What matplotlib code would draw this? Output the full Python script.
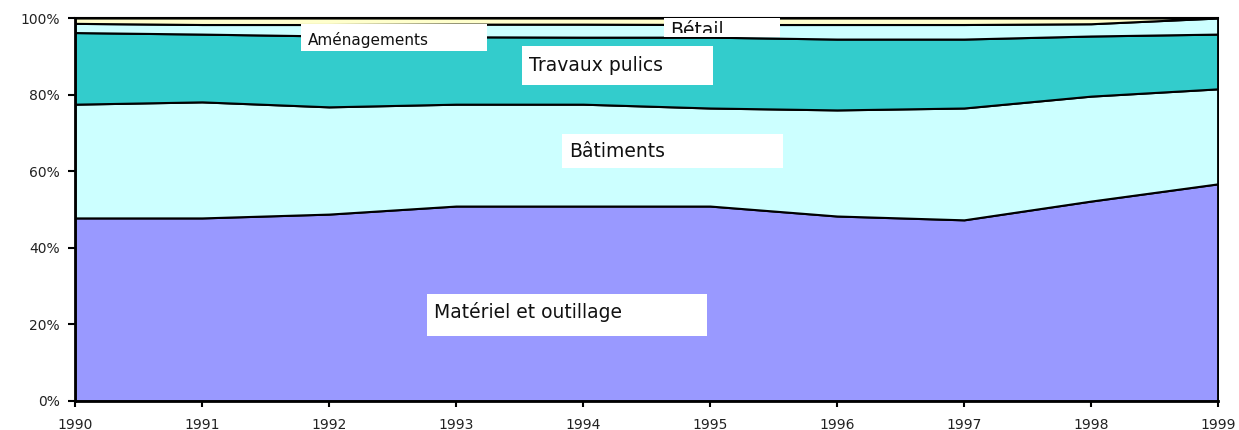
import matplotlib
matplotlib.use("Agg")
import matplotlib.pyplot as plt
from matplotlib.patches import Rectangle

plt.rcParams["font.family"] = ["DejaVu Sans"]

# données (% du total)
annees = [1990, 1991, 1992, 1993, 1994, 1995, 1996, 1997, 1998, 1999]
materiel = [47.8, 47.8, 48.8, 50.9, 50.9, 50.9, 48.3, 47.3, 52.2, 56.7]
batiments = [29.7, 30.3, 28.0, 26.6, 26.6, 25.6, 27.7, 29.2, 27.4, 24.8]
travaux = [18.7, 17.7, 18.5, 17.6, 17.5, 18.5, 18.5, 18.0, 15.7, 14.3]
amenagements = [2.4, 2.5, 3.0, 3.3, 3.4, 3.3, 3.8, 3.8, 3.2, 4.2]
betail = [1.4, 1.7, 1.7, 1.6, 1.6, 1.7, 1.7, 1.7, 1.5, 0.0]

couleurs = ["#9999FF", "#CCFFFF", "#33CCCC", "#CCFFFF", "#FFFFCC"]
yticks = [0, 20, 40, 60, 80, 100]
ytick_labels = ["0%", "20%", "40%", "60%", "80%", "100%"]


def px2x(px):
    return 1990 + (px - 75) / (1218 - 75) * 9


def px2y(py):
    return (401 - py) / (401 - 18) * 100


fig = plt.figure(figsize=(12.39, 4.30), dpi=100)
ax = fig.add_axes([75 / 1239, (430 - 401) / 430, (1218 - 75) / 1239, (401 - 18) / 430])

ax.stackplot(annees, materiel, batiments, travaux, amenagements, betail,
             colors=couleurs, edgecolor="black", linewidth=1.5)

ax.set_xlim(1990, 1999)
ax.set_ylim(0, 100)
ax.set_xticks(annees)
ax.set_xticklabels([str(a) for a in annees], fontsize=10, color="#222222")
ax.set_yticks(yticks)
ax.set_yticklabels(ytick_labels, fontsize=10, color="#222222")
ax.tick_params(axis="y", direction="out", length=5, width=1.5, pad=6)
ax.tick_params(axis="x", direction="out", length=4, width=1.5, pad=8.5)
for s in ["left", "bottom"]:
    ax.spines[s].set_linewidth(2)
ax.spines["right"].set_linewidth(1.2)
ax.spines["top"].set_linewidth(1.5)

# étiquettes dans des cadres blancs (texte, x gauche, x droite, y haut, y bas, base, taille)
etiquettes = [
    ("Aménagements", 301, 487, 24, 51, 44.5, 11),
    ("Travaux pulics", 522, 713, 46, 85, 70.7, 13.5),
    ("Bâtiments", 562, 783, 134, 168, 156.7, 13.5),
    ("Matériel et outillage", 427, 707, 294, 336, 318.3, 13.5),
]
for txt, x0, x1, y0, y1, base, fs in etiquettes:
    ax.add_patch(Rectangle((px2x(x0), px2y(y1)), px2x(x1) - px2x(x0),
                           px2y(y0) - px2y(y1), facecolor="white",
                           edgecolor="none", zorder=5))
    ax.text(px2x(x0 + 7), px2y(base), txt, fontsize=fs,
            va="baseline", ha="left", zorder=6, color="#111111")

# Bétail : texte coupé en bas
ax.add_patch(Rectangle((px2x(664), px2y(37)), px2x(780) - px2x(664),
                       px2y(18) - px2y(37), facecolor="white",
                       edgecolor="none", zorder=5))
clip = Rectangle((px2x(664), px2y(32.5)), px2x(780) - px2x(664),
                 px2y(10) - px2y(32.5), transform=ax.transData)
t = ax.text(px2x(670), px2y(35.8), "Bétail", fontsize=13.5, va="baseline",
            ha="left", zorder=6, color="#111111", clip_on=True)
t.set_clip_path(clip)

fig.savefig("out.png", dpi=100)
